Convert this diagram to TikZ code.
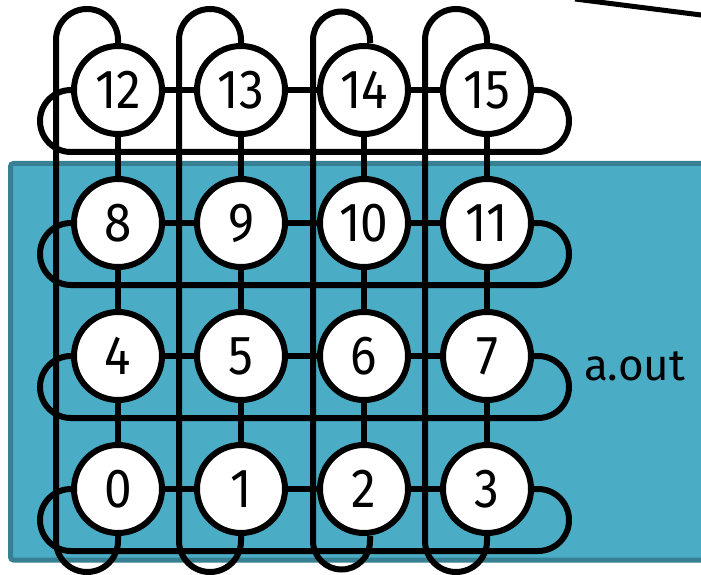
\documentclass[tikz,border=0pt]{standalone}
\usepackage{fontspec}
\setmainfont{Fira Sans}[FakeStretch=0.9]
\newfontfamily\labelfont{Fira Sans}
\usetikzlibrary{positioning}
\definecolor{boxfill}{RGB}{75,172,198}
\definecolor{boxedge}{RGB}{55,127,146}

\begin{document}
\begin{tikzpicture}[
          x=1pt, y=1pt, line width=6pt,
          pe/.style={draw, circle, fill=white, minimum size=88pt,
                     inner sep=0pt, font=\fontsize{55}{55}\selectfont},
          proc/.style={draw=boxedge, fill=boxfill, line width=5pt,
                       rounded corners=3pt}
        ]
        \useasboundingbox (0,0) rectangle (701,574);

        % process area
        \draw[proc] (10.5,14) rectangle (730,410.5);

        % line from the top
        \coordinate (lnA) at (575,575);
        \coordinate (lnB) at (705,558.5);
        \draw[line width=5pt] (lnA) -- (lnB);

        % 4x4 nodes
        \foreach \r in {0,...,3}
          \foreach \c in {0,...,3} {
            \pgfmathtruncatemacro\n{4*\r+\c}
            \node[pe] (c\n) at (118+123*\c, 85+133*\r) {\n};
          }

        % neighbour links
        \foreach \r in {0,...,3}
          \foreach \c in {0,1,2} {
            \pgfmathtruncatemacro\a{4*\r+\c}
            \pgfmathtruncatemacro\b{\a+1}
            \draw (c\a.east) -- (c\b.west);
          }
        \foreach \r in {0,1,2}
          \foreach \c in {0,...,3} {
            \pgfmathtruncatemacro\a{4*\r+\c}
            \pgfmathtruncatemacro\b{\a+4}
            \draw (c\a.north) -- (c\b.south);
          }

        % wrap-around in each row
        \foreach \l/\rr in {0/3,4/7,8/11,12/15}
          \draw (c\l.west) arc[start angle=90, end angle=270, radius=31pt]
            -- ([xshift=4pt,yshift=-62pt]c\rr.east)
            arc[start angle=-90, end angle=90, radius=31pt] -- (c\rr.east);

        % wrap-around in each column
        \foreach \t/\b/\dx/\rad in {12/0/0/31, 13/1/0/31, 14/2/6/28.5, 15/3/0/31}
          \draw ([xshift=\dx pt]c\t.north) -- ++(0,3)
            arc[start angle=0, end angle=180, radius=\rad pt]
            -- ([xshift=\dx pt-2*\rad pt, yshift=-5pt]c\b.south)
            arc[start angle=180, end angle=360, radius=\rad pt]
            -- ([xshift=\dx pt]c\b.south);

        \node[right=47pt of c7, yshift=-10pt, inner sep=0pt,
              font=\labelfont\fontsize{44}{44}\selectfont] (aout) {a.out};
      \end{tikzpicture}
\end{document}
